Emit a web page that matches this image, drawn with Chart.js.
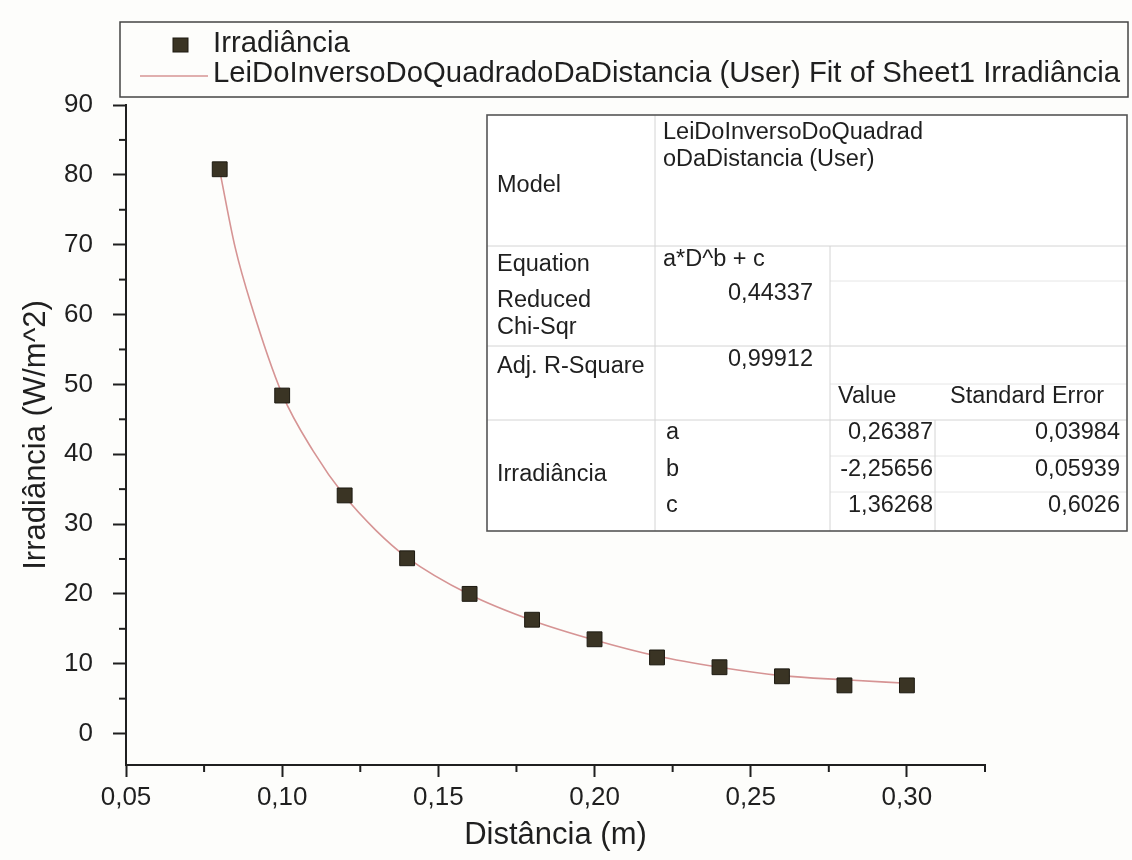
<!DOCTYPE html>
<html>
<head>
<meta charset="utf-8">
<script src="https://cdn.jsdelivr.net/npm/chart.js@4.4.0/dist/chart.umd.min.js"></script>
<style>
html, body { margin: 0; padding: 0; background: #fdfdfb; }
#wrap { width: 1132px; height: 860px; position: relative; }
</style>
</head>
<body>
<div id="wrap"><canvas id="myChart" width="1132" height="860"></canvas></div>
<script>
// dados
var distancia = [0.08, 0.10, 0.12, 0.14, 0.16, 0.18, 0.20, 0.22, 0.24, 0.26, 0.28, 0.30];
var irradiancia = [80.8, 48.4, 34.1, 25.1, 20.0, 16.3, 13.5, 10.9, 9.5, 8.2, 6.9, 6.9];
// curva do ajuste
var ajusteX = [0.08, 0.085, 0.09, 0.10, 0.11, 0.12, 0.13, 0.14, 0.16, 0.18, 0.20, 0.22, 0.24, 0.26, 0.28, 0.30];
var ajusteY = [80.6, 69.5, 61.5, 48.6, 40.4, 34.0, 29.1, 25.2, 19.9, 16.2, 13.4, 11.1, 9.5, 8.3, 7.7, 7.2];

var xTicks = [0.05, 0.10, 0.15, 0.20, 0.25, 0.30];
var xTickLabels = ["0,05", "0,10", "0,15", "0,20", "0,25", "0,30"];
var xMinor = [0.075, 0.125, 0.175, 0.225, 0.275, 0.325];
var yTicks = [0, 10, 20, 30, 40, 50, 60, 70, 80, 90];
var yMinor = [5, 15, 25, 35, 45, 55, 65, 75, 85];

// tabela do ajuste
var modelName = ["LeiDoInversoDoQuadrad", "oDaDistancia (User)"];
var equation = "a*D^b + c";
var chiSqr = "0,44337";
var adjR2 = "0,99912";
var paramNames = ["a", "b", "c"];
var paramValues = ["0,26387", "-2,25656", "1,36268"];
var paramErrors = ["0,03984", "0,05939", "0,6026"];

var FONT = "'Liberation Sans', Arial, sans-serif";
var INK = "#1f1f1f";

var pontos = distancia.map(function (d, i) { return { x: d, y: irradiancia[i] }; });
var curva = ajusteX.map(function (d, i) { return { x: d, y: ajusteY[i] }; });

var minorTicks = {
    id: "minorTicks",
    afterDraw: function (chart) {
        var ctx = chart.ctx, sx = chart.scales.x, sy = chart.scales.y;
        ctx.save();
        ctx.strokeStyle = INK;
        ctx.lineWidth = 2;
        xMinor.forEach(function (v) {
            var px = sx.getPixelForValue(v);
            ctx.beginPath(); ctx.moveTo(px, sx.top); ctx.lineTo(px, sx.top + 7); ctx.stroke();
        });
        yMinor.forEach(function (v) {
            var py = sy.getPixelForValue(v);
            ctx.beginPath(); ctx.moveTo(sy.right, py); ctx.lineTo(sy.right - 7, py); ctx.stroke();
        });
        ctx.restore();
    }
};

var legendBox = {
    id: "legendBox",
    afterDraw: function (chart) {
        var ctx = chart.ctx;
        var ds = chart.data.datasets;
        ctx.save();
        ctx.strokeStyle = "#444";
        ctx.lineWidth = 1.5;
        ctx.strokeRect(120, 22, 1008, 75);
        // marcador
        ctx.fillStyle = ds[0].backgroundColor;
        ctx.strokeStyle = ds[0].borderColor;
        ctx.lineWidth = 1;
        ctx.fillRect(173, 38, 15, 14);
        ctx.strokeRect(173, 38, 15, 14);
        // linha
        ctx.strokeStyle = ds[1].borderColor;
        ctx.lineWidth = 1.6;
        ctx.beginPath(); ctx.moveTo(140, 76); ctx.lineTo(208, 76); ctx.stroke();
        ctx.fillStyle = INK;
        ctx.font = "29.3px " + FONT;
        ctx.textBaseline = "middle";
        ctx.fillText(ds[0].label, 213, 44);
        ctx.fillText(ds[1].label, 213, 74);
        ctx.restore();
    }
};

var fitTable = {
    id: "fitTable",
    afterDraw: function (chart) {
        var ctx = chart.ctx;
        var L = 487, R = 1127, T = 115, B = 531;
        var c1 = 655, c2 = 830, c3 = 935;
        var r1 = 246, r2 = 281, r3 = 346, r4 = 384, r5 = 420, r6 = 456, r7 = 492;
        ctx.save();
        ctx.fillStyle = "#ffffff";
        ctx.fillRect(L, T, R - L, B - T);
        function line(x1, y1, x2, y2, c) {
            ctx.strokeStyle = c; ctx.beginPath(); ctx.moveTo(x1, y1); ctx.lineTo(x2, y2); ctx.stroke();
        }
        ctx.lineWidth = 1;
        line(c2, r2, R, r2, "#e6e6e6");
        line(c2, r4, R, r4, "#e6e6e6");
        line(c2, r6, R, r6, "#e6e6e6");
        line(c2, r7, R, r7, "#e6e6e6");
        line(L, r1, R, r1, "#d4d4d4");
        line(L, r3, R, r3, "#d4d4d4");
        line(L, r5, R, r5, "#d4d4d4");
        line(c1, T, c1, B, "#d4d4d4");
        line(c2, r1, c2, B, "#d4d4d4");
        line(c3, r5, c3, B, "#d4d4d4");
        ctx.lineWidth = 1.6;
        ctx.strokeStyle = "#555";
        ctx.strokeRect(L, T, R - L, B - T);

        ctx.fillStyle = INK;
        ctx.font = "23.5px " + FONT;
        ctx.textBaseline = "middle";
        ctx.textAlign = "left";
        ctx.fillText(modelName[0], 663, 133);
        ctx.fillText(modelName[1], 663, 160);
        ctx.fillText("Model", 497, 186);
        ctx.fillText("Equation", 497, 265);
        ctx.fillText(equation, 663, 260);
        ctx.fillText("Reduced", 497, 301);
        ctx.fillText("Chi-Sqr", 497, 328);
        ctx.fillText("Adj. R-Square", 497, 367);
        ctx.fillText("Value", 838, 397);
        ctx.fillText("Standard Error", 950, 397);
        ctx.fillText("Irradiância", 497, 475);
        var rowsY = [433, 470, 506];
        paramNames.forEach(function (p, i) { ctx.fillText(p, 666, rowsY[i]); });
        ctx.textAlign = "right";
        ctx.fillText(chiSqr, 813, 294);
        ctx.fillText(adjR2, 813, 360);
        paramValues.forEach(function (v, i) { ctx.fillText(v, 933, rowsY[i]); });
        paramErrors.forEach(function (v, i) { ctx.fillText(v, 1120, rowsY[i]); });
        ctx.restore();
    }
};

new Chart("myChart", {
    type: "scatter",
    data: {
        datasets: [{
            label: "Irradiância",
            data: pontos,
            pointStyle: "rect",
            pointRadius: 10.5,
            pointHoverRadius: 10.5,
            backgroundColor: "#3a3424",
            borderColor: "#1c1910",
            borderWidth: 1,
            showLine: false,
            order: 0
        }, {
            label: "LeiDoInversoDoQuadradoDaDistancia (User) Fit of Sheet1 Irradiância",
            data: curva,
            showLine: true,
            pointRadius: 0,
            borderColor: "#d69494",
            backgroundColor: "#d69494",
            borderWidth: 1.6,
            cubicInterpolationMode: "monotone",
            order: 1
        }]
    },
    options: {
        responsive: false,
        animation: false,
        layout: { padding: { top: 105, right: 147, bottom: 0, left: 0 } },
        plugins: {
            legend: { display: false },
            tooltip: { enabled: false }
        },
        scales: {
            x: {
                type: "linear",
                min: 0.05,
                max: 0.325,
                afterBuildTicks: function (s) { s.ticks = xTicks.map(function (v) { return { value: v }; }); },
                afterFit: function (s) { s.height = 95; },
                ticks: {
                    callback: function (v) { return xTickLabels[xTicks.indexOf(v)]; },
                    font: { size: 26, family: FONT },
                    color: INK,
                    padding: 5,
                    maxRotation: 0,
                    autoSkip: false
                },
                grid: { drawOnChartArea: false, tickLength: 12, tickWidth: 2, tickColor: INK },
                border: { color: INK, width: 2 },
                title: {
                    display: true,
                    text: "Distância (m)",
                    font: { size: 31, family: FONT },
                    color: INK,
                    padding: { top: 0, bottom: 6 }
                }
            },
            y: {
                min: -4.5,
                max: 90,
                afterBuildTicks: function (s) { s.ticks = yTicks.map(function (v) { return { value: v }; }); },
                afterFit: function (s) { s.width = 126; },
                ticks: {
                    font: { size: 26, family: FONT },
                    color: INK,
                    padding: 20
                },
                grid: { drawOnChartArea: false, tickLength: 13, tickWidth: 2, tickColor: INK },
                border: { color: INK, width: 2 },
                title: {
                    display: true,
                    text: "Irradiância (W/m^2)",
                    font: { size: 31, family: FONT },
                    color: INK,
                    padding: { top: 18, bottom: 0 }
                }
            }
        }
    },
    plugins: [minorTicks, fitTable, legendBox]
});
</script>
</body>
</html>
